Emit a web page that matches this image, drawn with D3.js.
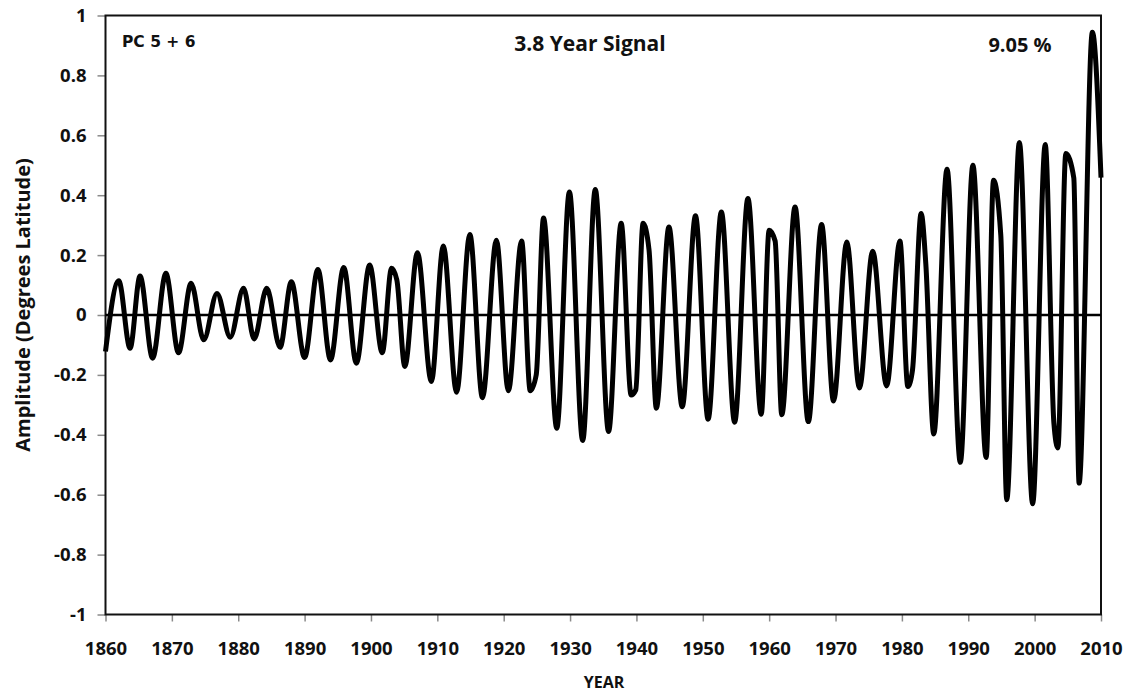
<!DOCTYPE html>
<html>
<head>
<meta charset="utf-8">
<script src="https://cdn.jsdelivr.net/npm/d3@7"></script>
<style>
  html, body { margin: 0; padding: 0; background: #fff; }
  svg { display: block; }
  text { font-family: "Open Sans", "Liberation Sans", sans-serif; font-weight: bold; fill: #111; }
</style>
</head>
<body>
<svg id="chart" width="1132" height="695"></svg>
<script>
// Years of peaks, troughs and shoulders
const years = [
  1860.0, 1862.0, 1863.7, 1865.2, 1867.1, 1869.1, 1871.0, 1872.9, 1874.8, 1876.8,
  1878.8, 1880.8, 1882.4, 1884.3, 1886.3, 1888.0, 1890.0, 1892.0, 1893.9, 1895.9,
  1897.8, 1899.8, 1901.7, 1903.1, 1903.9, 1905.1, 1907.0, 1909.1, 1910.9, 1912.9,
  1914.9, 1916.8, 1918.9, 1920.7, 1922.7, 1924.0, 1924.9, 1926.0, 1928.0, 1929.9,
  1931.9, 1933.8, 1935.8, 1937.7, 1939.2, 1939.9, 1941.0, 1941.9, 1943.0, 1944.9,
  1946.9, 1948.9, 1950.8, 1952.8, 1954.8, 1956.8, 1958.8, 1960.0, 1960.9, 1961.9,
  1963.9, 1965.9, 1967.9, 1969.7, 1971.7, 1973.6, 1975.6, 1977.7, 1979.7, 1980.9,
  1981.6, 1982.9, 1983.6, 1984.8, 1986.8, 1988.8, 1990.7, 1992.7, 1993.8, 1994.9,
  1995.8, 1997.7, 1999.7, 2001.6, 2002.9, 2003.5, 2004.7, 2005.9, 2006.7, 2008.7,
  2010.0
];
// Amplitude (degrees latitude) at those years
const amplitude = [
  -0.122, 0.114, -0.111, 0.130, -0.144, 0.139, -0.126, 0.106, -0.083, 0.072,
  -0.074, 0.089, -0.080, 0.089, -0.108, 0.111, -0.142, 0.152, -0.150, 0.159,
  -0.161, 0.167, -0.126, 0.156, 0.117, -0.172, 0.208, -0.222, 0.230, -0.258,
  0.269, -0.276, 0.250, -0.253, 0.247, -0.253, -0.200, 0.324, -0.378, 0.411,
  -0.419, 0.419, -0.389, 0.306, -0.267, -0.250, 0.306, 0.217, -0.311, 0.294,
  -0.306, 0.331, -0.348, 0.344, -0.358, 0.389, -0.331, 0.283, 0.247, -0.333,
  0.361, -0.356, 0.302, -0.287, 0.244, -0.244, 0.213, -0.237, 0.247, -0.239,
  -0.183, 0.339, 0.172, -0.397, 0.487, -0.492, 0.500, -0.476, 0.450, 0.267,
  -0.617, 0.576, -0.630, 0.569, -0.361, -0.444, 0.539, 0.458, -0.561, 0.944,
  0.459
];
const xTicks = [1860, 1870, 1880, 1890, 1900, 1910, 1920, 1930, 1940, 1950, 1960, 1970, 1980, 1990, 2000, 2010];
const yTicks = [-1, -0.8, -0.6, -0.4, -0.2, 0, 0.2, 0.4, 0.6, 0.8, 1];
const yTickLabels = ["-1", "-0.8", "-0.6", "-0.4", "-0.2", "0", "0.2", "0.4", "0.6", "0.8", "1"];

const svg = d3.select("#chart");
const pLeft = 105.5, pRight = 1101, pTop = 15.5, pBottom = 614.5;

const x = d3.scaleLinear().domain([1860, 2010]).range([pLeft, pRight]);
const y = d3.scaleLinear().domain([-1, 1]).range([pBottom, pTop]);

// Axes
const yAxis = d3.axisLeft(y).tickValues(yTicks).tickSize(8).tickPadding(11)
  .tickFormat(d => yTickLabels[yTicks.indexOf(d)]);
const gy = svg.append("g").attr("transform", `translate(${pLeft},0)`).call(yAxis);
gy.select(".domain").remove();
gy.selectAll(".tick line").attr("stroke", "#8a8a8a").attr("stroke-width", 1.5);
gy.selectAll(".tick text").style("font-size", "18.5px").attr("fill", "#111");

const xAxis = d3.axisBottom(x).tickValues(xTicks).tickSize(7).tickPadding(20)
  .tickFormat(d3.format("d"));
const gx = svg.append("g").attr("transform", `translate(0,${pBottom})`).call(xAxis);
gx.select(".domain").remove();
gx.selectAll(".tick line").attr("stroke", "#8a8a8a").attr("stroke-width", 1.5);
gx.selectAll(".tick text").style("font-size", "18.5px").attr("fill", "#111");

// Plot border
svg.append("rect")
  .attr("x", pLeft).attr("y", pTop)
  .attr("width", pRight - pLeft).attr("height", pBottom - pTop)
  .attr("fill", "none").attr("stroke", "#111").attr("stroke-width", 2);

// Data line
const pts = years.map((yr, i) => [yr, amplitude[i]]);
const line = d3.line().x(d => x(d[0])).y(d => y(d[1])).curve(d3.curveMonotoneX);
svg.append("path")
  .datum(pts)
  .attr("d", line)
  .attr("fill", "none")
  .attr("stroke", "#000")
  .attr("stroke-width", 5)
  .attr("stroke-linejoin", "round");

// Zero line
svg.append("line")
  .attr("x1", pLeft).attr("x2", pRight)
  .attr("y1", y(0)).attr("y2", y(0))
  .attr("stroke", "#000").attr("stroke-width", 2.5);

// Annotations
svg.append("text").attr("x", 122).attr("y", 47)
  .style("font-family", "'DejaVu Sans', sans-serif").style("font-size", "15.5px")
  .text("PC 5 + 6");
svg.append("text").attr("x", 590).attr("y", 51).attr("text-anchor", "middle")
  .style("font-size", "21px").text("3.8 Year Signal");
svg.append("text").attr("x", 1020).attr("y", 52).attr("text-anchor", "middle")
  .style("font-size", "20px").text("9.05 %");

// Axis titles
svg.append("text")
  .attr("transform", `translate(30,${(pTop + pBottom) / 2 - 10}) rotate(-90)`)
  .attr("text-anchor", "middle")
  .style("font-size", "20px")
  .text("Amplitude (Degrees Latitude)");
svg.append("text").attr("x", 604).attr("y", 688).attr("text-anchor", "middle")
  .style("font-size", "16px").text("YEAR");
</script>
</body>
</html>
